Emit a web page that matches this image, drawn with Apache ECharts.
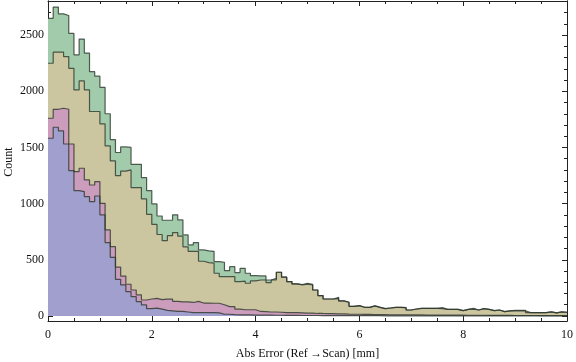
<!DOCTYPE html>
<html>
<head>
<meta charset="utf-8">
<script src="https://cdn.jsdelivr.net/npm/echarts@6/dist/echarts.min.js"></script>
<style>
  html, body { margin: 0; padding: 0; background: #fff; }
  #chart { width: 576px; height: 362px; }
</style>
</head>
<body>
<div id="chart"></div>
<script>
// Histogram bins: width 0.1 mm, starting at 0
const binStart = 0;
const binWidth = 0.1;

// Series counts per bin (back to front)
const greenCounts = [
  2650, 2750, 2690, 2675, 2515, 2325, 2465, 2340, 2175, 2135,
  2035, 1800, 1570, 1455, 1505, 1500, 1350, 1350, 1232, 1116,
  997, 890, 852, 852, 900, 855, 721, 632, 653, 588,
  580, 575, 484, 478, 404, 439, 386, 424, 380, 359,
  356, 356, 320, 335, 389, 345, 306, 285, 280, 291,
  282, 231, 181, 151, 151, 166, 134, 122, 86, 92,
  77, 77, 89, 77, 65, 71, 77, 77, 74, 53,
  62, 68, 68, 68, 68, 74, 59, 59, 59, 47,
  59, 68, 53, 65, 59, 47, 53, 39, 45, 50,
  50, 50, 30, 30, 30, 30, 36, 27, 36, 33
];
const khakiCounts = [
  2250, 2348, 2348, 2309, 2205, 2012, 2092, 2012, 1820, 1820,
  1710, 1514, 1380, 1250, 1290, 1300, 1143, 1143, 1042, 905,
  815, 725, 670, 715, 742, 710, 615, 575, 575, 487,
  475, 470, 380, 350, 350, 350, 306, 310, 291, 312,
  320, 320, 297, 320, 389, 345, 306, 285, 276, 282,
  276, 231, 181, 151, 151, 155, 134, 122, 86, 92,
  77, 77, 89, 77, 65, 71, 77, 77, 74, 53,
  62, 68, 68, 68, 68, 65, 59, 59, 59, 47,
  59, 60, 53, 65, 59, 47, 53, 39, 45, 45,
  45, 45, 30, 30, 30, 30, 36, 27, 36, 33
];
const pinkCounts = [
  1760, 1840, 1849, 1840, 1531, 1285, 1315, 1211, 1166, 1196,
  1003, 766, 617, 435, 355, 282, 231, 187, 142, 151,
  157, 145, 150, 150, 130, 125, 125, 120, 130, 115,
  115, 113, 113, 100, 83, 83, 60, 55, 55, 55,
  40, 38, 35, 35, 33, 30, 30, 30, 28, 25,
  25, 22, 22, 20, 20, 18, 18, 16, 15, 15,
  14, 14, 12, 12, 12, 10, 10, 10, 10, 9,
  9, 9, 8, 8, 8, 8, 7, 7, 7, 7,
  6, 6, 6, 6, 5, 5, 5, 5, 5, 4,
  4, 4, 4, 4, 3, 3, 3, 3, 3, 3
];
const blueCounts = [
  1582, 1680, 1647, 1531, 1294, 1116, 1107, 1062, 1018, 1068,
  899, 653, 522, 326, 276, 217, 172, 128, 98, 65,
  70, 60, 50, 45, 40, 40, 35, 30, 30, 30,
  30, 30, 28, 15, 15, 12, 10, 10, 9, 8,
  8, 7, 7, 6, 6, 5, 5, 5, 4, 4,
  4, 4, 3, 3, 3, 3, 3, 2, 2, 2,
  2, 2, 2, 2, 1, 1, 1, 1, 1, 1,
  1, 1, 1, 1, 1, 1, 1, 1, 1, 1,
  0, 0, 0, 0, 0, 0, 0, 0, 0, 0,
  0, 0, 0, 0, 0, 0, 0, 0, 0, 0
];

// Axis ticks
const yMajorTicks = [0, 500, 1000, 1500, 2000, 2500];
const yMinorTicks = [100, 200, 300, 400, 600, 700, 800, 900, 1100, 1200, 1300, 1400,
  1600, 1700, 1800, 1900, 2100, 2200, 2300, 2400, 2600, 2700, 2800];

const xTitle = 'Abs Error (Ref\u2009\u2192Scan) [mm]';
const yTitle = 'Count';

function stepData(counts) {
  const pts = counts.map((c, i) => [binStart + i * binWidth, c]);
  pts.push([binStart + counts.length * binWidth, counts[counts.length - 1]]);
  return pts;
}

const FONT = 'Liberation Serif';
const yMin = -45, yMax = 2804;

const chart = echarts.init(document.getElementById('chart'), null, { renderer: 'canvas' });

function xAx(pos, labels) {
  return {
    type: 'value', position: pos, min: 0, max: 10, interval: 2,
    axisLine: { show: true, onZero: false, lineStyle: { color: '#222', width: 1 } },
    axisTick: { show: true, inside: true, length: 5, lineStyle: { color: '#222' } },
    minorTick: { show: true, splitNumber: 4, length: 3, lineStyle: { color: '#222' } },
    splitLine: { show: false },
    axisLabel: { show: labels, fontFamily: FONT, fontSize: 12, color: '#111', margin: 8,
      formatter: v => String(v) },
    name: labels ? xTitle : '',
    nameLocation: 'middle', nameGap: 27, nameMoveOverlap: false,
    nameTextStyle: { fontFamily: FONT, fontSize: 12, color: '#111' }
  };
}
function yAx(pos, major, labels) {
  return {
    type: 'value', position: pos, min: yMin, max: yMax,
    axisLine: { show: true, onZero: false, lineStyle: { color: '#222', width: 1 } },
    axisTick: { show: true, inside: true, length: major ? 5 : 3,
      customValues: major ? yMajorTicks : yMinorTicks, lineStyle: { color: '#222' } },
    splitLine: { show: false },
    axisLabel: { show: labels, customValues: yMajorTicks, fontFamily: FONT, fontSize: 12, color: '#111', margin: 4,
      formatter: v => String(v) }
  };
}

const colors = {
  green: '#a1cbab',
  khaki: '#cbc5a0',
  pink: '#cb9cbb',
  blue: '#a09fcd'
};

function series(name, counts, color) {
  return {
    name, type: 'line', step: 'end', symbol: 'none', silent: true,
    xAxisIndex: 0, yAxisIndex: 0,
    data: stepData(counts),
    lineStyle: { color: 'rgba(45,55,45,0.8)', width: 1.2 },
    areaStyle: { color: color, opacity: 1 },
    animation: false
  };
}

chart.setOption({
  animation: false,
  backgroundColor: '#fff',
  grid: { left: 48, top: 1, width: 519, height: 320, containLabel: false, outerBoundsMode: 'none' },
  xAxis: [xAx('bottom', true), xAx('top', false)],
  yAxis: [yAx('left', true, true), yAx('left', false, false), yAx('right', true, false), yAx('right', false, false)],
  graphic: [{
    type: 'text', x: 9, y: 162, rotation: Math.PI / 2, silent: true,
    style: { text: yTitle, font: '12px "Liberation Serif"', fill: '#111', align: 'center', verticalAlign: 'middle' }
  }],
  series: [
    series('A', greenCounts, colors.green),
    series('B', khakiCounts, colors.khaki),
    series('C', pinkCounts, colors.pink),
    series('D', blueCounts, colors.blue)
  ]
});
</script>
</body>
</html>
